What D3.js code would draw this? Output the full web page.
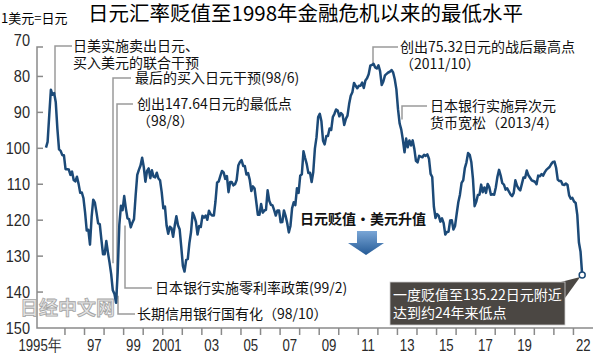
<!DOCTYPE html>
<html>
<head>
<meta charset="utf-8">
<script src="https://cdn.jsdelivr.net/npm/d3@7"></script>
<style>
  body { margin: 0; background: #fff; }
  text { font-family: "Noto Sans CJK SC", sans-serif; }
  .num { font-family: "Liberation Sans", Arial, sans-serif; }
</style>
</head>
<body>
<div id="chart"></div>
<script>
const
  width = 600,
  height = 361;

// monthly yen per dollar, Jan 1995 .. Jun 2022
const rate1995 = [99.8, 98.2, 90.8, 83.7, 85.1, 84.6, 87.2, 94.6, 100.3, 100.7, 101.9, 101.9];
const rate1996 = [105.8, 105.8, 105.9, 107.4, 106.5, 108.8, 109.2, 107.9, 109.9, 112.4, 112.3, 113.9];
const rate1997 = [117.9, 122.9, 122.7, 126.8, 119.1, 114.3, 115.1, 117.9, 120.9, 121.1, 125.4, 129.5];
const rate1998 = [129.5, 125.8, 129.0, 131.8, 135.0, 139.5, 140.5, 143.0, 134.5, 121.3, 116.0, 117.2];
const rate1999 = [113.3, 116.7, 119.5, 119.7, 122.0, 120.7, 119.7, 113.2, 107.4, 106.0, 104.8, 102.6];
const rate2000 = [105.2, 109.3, 106.3, 105.6, 108.3, 106.1, 107.9, 108.1, 106.8, 108.4, 108.9, 112.2];
const rate2001 = [116.7, 116.2, 121.5, 123.8, 121.8, 122.2, 124.6, 121.5, 118.9, 121.4, 122.5, 127.4];
const rate2002 = [132.7, 134.3, 131.1, 130.8, 126.4, 123.3, 117.9, 119.0, 120.5, 124.0, 121.6, 121.9];
const rate2003 = [118.8, 119.3, 118.7, 119.9, 117.4, 118.3, 118.7, 118.7, 114.8, 109.5, 109.2, 107.7];
const rate2004 = [106.3, 106.7, 108.5, 107.7, 112.2, 109.4, 109.4, 110.3, 110.0, 108.8, 104.8, 103.8];
const rate2005 = [103.3, 104.9, 104.9, 107.3, 106.9, 108.7, 111.9, 110.6, 111.2, 114.8, 118.5, 118.5];
const rate2006 = [115.5, 117.9, 117.3, 117.1, 111.7, 114.6, 115.7, 115.9, 117.2, 118.7, 117.3, 117.3];
const rate2007 = [120.6, 120.5, 117.3, 118.8, 120.8, 123.4, 121.6, 116.7, 115.0, 115.8, 111.1, 112.4];
const rate2008 = [107.6, 107.2, 100.8, 102.7, 104.4, 106.9, 106.8, 109.4, 106.6, 100.1, 96.9, 91.3];
const rate2009 = [90.4, 92.5, 97.9, 98.9, 96.6, 96.6, 94.5, 94.9, 91.3, 90.4, 89.2, 89.5];
const rate2010 = [91.1, 90.2, 90.7, 93.5, 91.8, 90.9, 87.7, 85.4, 84.4, 81.8, 82.6, 83.3];
const rate2011 = [82.6, 82.6, 81.7, 83.2, 81.1, 80.5, 79.4, 77.0, 76.8, 76.5, 77.5, 77.8];
const rate2012 = [76.9, 78.5, 82.4, 81.4, 79.7, 79.3, 78.9, 78.7, 78.2, 78.9, 80.8, 83.6];
const rate2013 = [89.1, 93.1, 94.8, 97.7, 101.1, 97.3, 99.7, 97.8, 99.2, 97.8, 100.1, 103.5];
const rate2014 = [103.9, 102.1, 102.3, 102.5, 101.8, 102.1, 101.7, 102.9, 107.1, 108.0, 116.2, 119.4];
const rate2015 = [118.3, 118.8, 120.4, 119.5, 120.8, 124.0, 123.3, 123.2, 120.1, 120.0, 122.6, 121.6];
const rate2016 = [118.2, 115.0, 112.9, 109.6, 108.9, 105.5, 103.9, 101.3, 101.8, 103.9, 108.6, 116.1];
const rate2017 = [114.9, 113.0, 112.9, 110.1, 112.2, 110.9, 112.4, 109.9, 110.8, 112.9, 112.8, 112.9];
const rate2018 = [110.9, 107.9, 106.0, 107.6, 109.7, 110.1, 111.5, 111.1, 112.0, 112.8, 113.3, 112.4];
const rate2019 = [108.9, 110.4, 111.2, 111.7, 109.9, 108.1, 108.2, 106.2, 107.5, 108.2, 108.9, 109.1];
const rate2020 = [109.3, 110.0, 107.6, 107.8, 107.2, 107.6, 106.7, 106.0, 105.6, 105.2, 104.4, 103.8];
const rate2021 = [103.7, 105.4, 108.7, 109.1, 109.1, 110.1, 110.2, 109.8, 110.2, 113.1, 114.0, 113.8];
const rate2022 = [114.8, 115.2, 118.5, 126.2, 128.8, 135.22];

const yTicks = [70, 80, 90, 100, 110, 120, 130, 140, 150];
const xTickYears = d3.range(1996, 2023);
const xLabels = ["1995年", "97", "99", "2001", "03", "05", "07", "09", "11", "13", "15", "17", "19", "22"];
const xLabelYears = [1995, 1997, 1999, 2001, 2003, 2005, 2007, 2009, 2011, 2013, 2015, 2017, 2019, 2022];

const allRates = [].concat(rate1995, rate1996, rate1997, rate1998, rate1999, rate2000, rate2001,
  rate2002, rate2003, rate2004, rate2005, rate2006, rate2007, rate2008, rate2009, rate2010,
  rate2011, rate2012, rate2013, rate2014, rate2015, rate2016, rate2017, rate2018, rate2019,
  rate2020, rate2021, rate2022);
const series = allRates.map((v, i) => ({ t: 1995 + i / 12 + 0.03, v: v }));

var svg = d3
      .select("#chart")
      .append("svg")
      .attr("width", width)
      .attr("height", height)

var x = d3.scaleLinear().domain([1995, 2023]).range([45.4, 593]);
var y = d3.scaleLinear().domain([70, 150]).range([40.5, 328]);

const lineColor = "#1c4a78",
      leaderColor = "#9a9a9a",
      axisColor = "#8a8a8a";

// title
svg.append("text")
  .attr("x", 1).attr("y", 23)
  .style("font-size", "13px")
  .text("1美元=日元")

svg.append("text")
  .attr("x", 88).attr("y", 21)
  .style("font-size", "20.5px")
  .text("日元汇率贬值至1998年金融危机以来的最低水平")

// axes
svg.append("path")
  .attr("d", `M43,47H37V${y(150)}H593`)
  .attr("fill", "none")
  .attr("stroke", axisColor)
  .attr("stroke-width", 1.5)

svg.selectAll(".ytick")
  .data(yTicks.slice(1, -1))
  .enter()
  .append("line")
  .attr("x1", 37).attr("x2", 43)
  .attr("y1", d => y(d)).attr("y2", d => y(d))
  .attr("stroke", axisColor)
  .attr("stroke-width", 1.5)

svg.selectAll(".ylab")
  .data(yTicks)
  .enter()
  .append("text")
  .attr("class", "num")
  .attr("transform", d => `translate(30,${y(d)}) scale(0.88,1)`)
  .attr("dy", "0.36em")
  .attr("text-anchor", "end")
  .style("font-size", "16.5px")
  .style("fill", "#2a2a2a")
  .text(d => d)

svg.selectAll(".xtick")
  .data(xTickYears)
  .enter()
  .append("line")
  .attr("x1", d => x(d)).attr("x2", d => x(d))
  .attr("y1", y(150)).attr("y2", y(150) + 7)
  .attr("stroke", axisColor)
  .attr("stroke-width", 1.5)

// first label is pushed left to fit, four-digit labels sit a bit left of mid-year
const labelShift = (d, i) => i === 0 ? -15.5 : (d.length === 4 ? -5.5 : 0);

svg.selectAll(".xlab")
  .data(xLabels)
  .enter()
  .append("text")
  .attr("class", "num")
  .attr("transform", (d, i) => `translate(${x(xLabelYears[i] + 0.5) + labelShift(d, i)},351) scale(0.8,1)`)
  .attr("text-anchor", "middle")
  .style("font-size", "16.5px")
  .style("fill", "#2a2a2a")
  .text(d => d)

// leader lines (drawn under the curve)
const leaders = [
  [[72, 46], [55, 46], [55, y(85)]],
  [[131, 78], [113, 78], [113, y(132)]],
  [[133, 104], [117, 104], [117, y(142)]],
  [[152, 288], [125, 288], [125, y(121.5)]],
  [[135, 314], [118, 314], [118, y(141)]],
  [[398, 47], [373, 47], [373, y(76.5)]],
  [[427, 106], [402, 106], [402, y(92)]]
];
svg.selectAll(".leader")
  .data(leaders)
  .enter()
  .append("path")
  .attr("d", d => d3.line()(d))
  .attr("fill", "none")
  .attr("stroke", leaderColor)
  .attr("stroke-width", 1.5)

// watermark
svg.append("text")
  .attr("x", 20).attr("y", 315)
  .style("font-size", "19px")
  .style("font-weight", "bold")
  .attr("fill", "#e2e2e2")
  .attr("stroke", "#9a9a9a")
  .attr("stroke-width", 0.8)
  .attr("opacity", 0.9)
  .text("日经中文网")

// the curve
svg.append("path")
  .datum(series)
  .attr("d", d3.line().x(d => x(d.t)).y(d => y(d.v)))
  .attr("fill", "none")
  .attr("stroke", lineColor)
  .attr("stroke-width", 2.5)
  .attr("stroke-linejoin", "round")

// annotations
const notes = [
  { x: 73, y: 46, lines: ["日美实施卖出日元、", "买入美元的联合干预"] },
  { x: 135, y: 78, lines: ["最后的买入日元干预(98/6)"] },
  { x: 137, y: 104, lines: ["创出147.64日元的最低点", "（98/8）"] },
  { x: 155, y: 288, lines: ["日本银行实施零利率政策(99/2)"] },
  { x: 137, y: 314, lines: ["长期信用银行国有化（98/10）"] },
  { x: 400, y: 47, lines: ["创出75.32日元的战后最高点", "（2011/10）"] },
  { x: 430, y: 106, lines: ["日本银行实施异次元", "货币宽松（2013/4）"] }
];
notes.forEach(n => {
  n.lines.forEach((l, i) => {
    svg.append("text")
      .attr("x", n.x)
      .attr("y", n.y + i * 17.5)
      .attr("dy", "0.35em")
      .style("font-size", "14px")
      .style("fill", "#111")
      .text(l)
  })
})

svg.append("text")
  .attr("x", 300).attr("y", 219)
  .attr("dy", "0.35em")
  .style("font-size", "14px")
  .style("font-weight", "bold")
  .style("fill", "#111")
  .text("日元贬值・美元升值")

// arrow
const grad = svg.append("defs").append("linearGradient")
  .attr("id", "arrowGrad")
  .attr("x1", 0).attr("y1", 0).attr("x2", 0).attr("y2", 1)
grad.append("stop").attr("offset", "0%").attr("stop-color", "#7aa6d6")
grad.append("stop").attr("offset", "100%").attr("stop-color", "#245a96")

svg.append("path")
  .attr("d", "M357,231H377V243H384L366,255L348,243H357Z")
  .attr("fill", "url(#arrowGrad)")

// callout box for last point
const last = series[series.length - 1];
svg.append("path")
  .attr("d", `M557,283L565,298L${x(last.t) - 2},${y(last.v) + 2}Z`)
  .attr("fill", "#4b4743")

svg.append("rect")
  .attr("x", 390).attr("y", 282)
  .attr("width", 175).attr("height", 43)
  .attr("fill", "#4b4743")
  .attr("stroke", "#cfcfcf")
  .attr("stroke-width", 0.8)

svg.append("text")
  .attr("x", 393).attr("y", 295).attr("dy", "0.35em")
  .style("font-size", "14px").style("fill", "#fff")
  .text("一度贬值至135.22日元附近")
svg.append("text")
  .attr("x", 393).attr("y", 313).attr("dy", "0.35em")
  .style("font-size", "14px").style("fill", "#fff")
  .text("达到约24年来低点")

svg.append("circle")
  .attr("cx", x(last.t)).attr("cy", y(last.v))
  .attr("r", 3)
  .attr("fill", "#fff")
  .attr("stroke", lineColor)
  .attr("stroke-width", 1.5)
</script>
</body>
</html>
